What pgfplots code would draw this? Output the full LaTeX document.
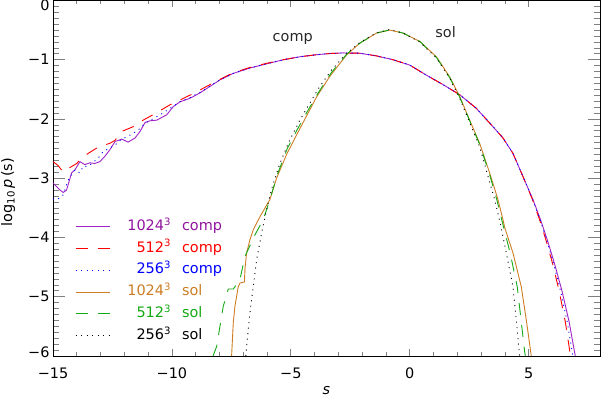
\documentclass[border=0pt]{standalone}
\usepackage{pgfplots}
\pgfplotsset{compat=1.18}
\usepackage{fontspec}
\setmainfont{DejaVu Sans}
\usetikzlibrary{calc}
\definecolor{cpurple}{RGB}{160,35,200}
\definecolor{tpurple}{RGB}{145,20,160}
\definecolor{cred}{RGB}{255,0,0}
\definecolor{cblue}{RGB}{0,0,255}
\definecolor{corange}{RGB}{205,125,35}
\definecolor{cgreen}{RGB}{20,170,20}
\newcommand{\lent}[3]{\textcolor{#1}{\makebox[54bp][r]{#2}\textsuperscript{3}\hspace{11bp}#3}}
\tikzset{
  solidpat/.style={solid},
  dashpat/.style={dash pattern=on 12bp off 10bp},
  dotpat/.style={dash pattern=on 1bp off 4.5bp},
}
\newcommand{\limg}[2]{\addlegendimage{legend image code/.code={\color{#1}\draw[draw=#1, line width=0.9bp, #2] (0bp,0bp) -- (34bp,0bp);}}}
\begin{document}
\begin{tikzpicture}[font=\fontsize{14.5}{17}\selectfont]
\begin{axis}[name=ax, scale only axis, width=547bp, height=355.5bp,
  xmin=-15, xmax=8, ymin=-6, ymax=0,
  xtick={-15,-10,-5,0,5}, xticklabels={−15,−10,−5,0,5},
  ytick={-6,-5,-4,-3,-2,-1,0},
  yticklabels={\raisebox{4bp}{−6},−5,−4,−3,−2,−1,\raisebox{-4.5bp}{0}},
  minor x tick num=4, minor y tick num=9,
  tick align=inside,
  axis line style={line width=0.8bp},
  xtick style={line width=0.7bp, /pgfplots/major tick length=7bp, /pgfplots/minor tick length=3.5bp},
  ytick style={line width=0.7bp, /pgfplots/major tick length=12bp, /pgfplots/minor tick length=6bp},
  yticklabel style={text height=10.5bp, text depth=0bp},
  xticklabel style={yshift=-8bp},
  xlabel={\textit{s}}, ylabel={log\textsubscript{10}\,\textit{p}\,(s)},
  xlabel style={at={(axis description cs:0.5,-0.098)}, anchor=center, inner sep=0bp},
  ylabel style={at={(axis description cs:-0.082,0.461)}, anchor=center},
  legend cell align=left,
  legend style={draw=none, fill=none, at={(axis description cs:0.0402,0.385)}, anchor=north west,
    row sep=7.3bp, column sep=0bp, inner sep=0bp,
    nodes={inner sep=0bp, text height=11bp, text depth=3.5bp}},
  every axis plot/.append style={line width=0.9bp},
]
\limg{cpurple}{solidpat}
\addlegendentry{\lent{tpurple}{1024}{comp}}
\limg{cred}{dashpat}
\addlegendentry{\lent{cred}{512}{comp}}
\limg{cblue}{dotpat}
\addlegendentry{\lent{cblue}{256}{comp}}
\limg{corange}{solidpat}
\addlegendentry{\lent{corange}{1024}{sol}}
\limg{cgreen}{dashpat}
\addlegendentry{\lent{cgreen}{512}{sol}}
\limg{black}{dotpat}
\addlegendentry{\lent{black}{256}{sol}}
% comp 1024^3
\addplot[draw=cpurple, forget plot] coordinates {
(-15,-3.08) (-14.85,-3.14) (-14.7,-3.2) (-14.57,-3.24) (-14.43,-3.20) (-14.32,-3.05) (-14.22,-2.91) (-14.08,-2.86) (-13.87,-2.72) (-13.66,-2.77) (-13.45,-2.74) (-13.24,-2.75) (-13.03,-2.72) (-12.82,-2.63) (-12.61,-2.52) (-12.39,-2.38) (-12.11,-2.34) (-11.84,-2.39) (-11.55,-2.32) (-11.34,-2.21) (-11.13,-2.06) (-10.92,-2.03) (-10.64,-2.02) (-10.22,-1.93) (-9.94,-1.79) (-9.66,-1.71) (-9.24,-1.65) (-8.82,-1.56) (-7.98,-1.34) (-7.42,-1.23) (-6.72,-1.14) (-6.02,-1.07) (-5.32,-1.0) (-4.62,-0.95) (-3.92,-0.915) (-3.36,-0.895) (-2.8,-0.885) (-2.10,-0.89) (-1.4,-0.935) (-0.70,-1.0) (0,-1.09) (0.70,-1.26) (1.40,-1.42) (2.10,-1.59) (2.80,-1.82) (3.50,-2.13) (3.92,-2.32) (4.34,-2.58) (4.76,-2.97) (5.18,-3.36) (5.5,-3.70) (5.8,-4.06) (6.1,-4.46) (6.4,-4.90) (6.7,-5.42) (6.96,-6.0)
};
% comp 512^3
\addplot[draw=cred, dashpat, forget plot] coordinates {
(-15,-2.72) (-14.8,-2.78) (-14.64,-2.86) (-14.45,-2.89) (-14.29,-2.82) (-14.0,-2.75) (-13.87,-2.69) (-13.52,-2.58) (-13.16,-2.49) (-12.9,-2.45) (-12.61,-2.41) (-12.39,-2.36) (-12.11,-2.21) (-11.63,-2.13) (-11.21,-2.02) (-10.58,-1.88) (-10.08,-1.76) (-9.66,-1.68) (-9.1,-1.57) (-8.82,-1.51) (-7.98,-1.33) (-7.42,-1.22) (-6.72,-1.13) (-6.02,-1.06) (-5.32,-1.0) (-4.62,-0.95) (-3.92,-0.915) (-3.36,-0.895) (-2.8,-0.885) (-2.10,-0.89) (-1.4,-0.935) (-0.70,-1.0) (0,-1.09) (0.70,-1.26) (1.40,-1.42) (2.10,-1.59) (2.80,-1.82) (3.50,-2.13) (3.92,-2.32) (4.34,-2.58) (4.76,-2.97) (5.16,-3.36) (5.46,-3.70) (5.74,-4.06) (6.02,-4.46) (6.28,-4.90) (6.54,-5.42) (6.76,-6.0)
};
% comp 256^3
\addplot[draw=cblue, dotpat, forget plot] coordinates {
(-15,-3.35) (-14.82,-3.36) (-14.57,-3.28) (-14.36,-3.03) (-14.08,-2.86) (-13.87,-2.91) (-13.73,-2.80) (-13.52,-2.80) (-13.1,-2.66) (-12.89,-2.55) (-12.61,-2.49) (-12.39,-2.44) (-12.18,-2.36) (-11.9,-2.30) (-11.62,-2.24) (-11.34,-2.16) (-11.13,-2.07) (-10.5,-1.93) (-10.0,-1.80) (-9.66,-1.71) (-9.24,-1.64) (-8.82,-1.55) (-7.98,-1.34) (-7.42,-1.23) (-6.72,-1.14) (-6.02,-1.07) (-5.32,-1.0) (-4.62,-0.95) (-3.92,-0.915) (-3.36,-0.895) (-2.8,-0.885) (-2.10,-0.89) (-1.4,-0.935) (-0.70,-1.0) (0,-1.09) (0.70,-1.26) (1.40,-1.42) (2.10,-1.59) (2.80,-1.82) (3.50,-2.13) (3.92,-2.32) (4.34,-2.58) (4.76,-2.97) (5.17,-3.36) (5.48,-3.70) (5.77,-4.06) (6.06,-4.46) (6.34,-4.90) (6.62,-5.42) (6.86,-6.0)
};
% sol 1024^3
\addplot[draw=corange, forget plot] coordinates {
(-7.49,-6.0) (-7.42,-5.44) (-7.35,-5.16) (-7.21,-4.83) (-7.14,-4.77) (-6.95,-4.75) (-6.93,-4.54) (-6.86,-4.26) (-6.72,-4.04) (-6.58,-3.87) (-6.30,-3.65) (-5.88,-3.36) (-5.60,-3.00) (-5.18,-2.60) (-4.76,-2.27) (-4.34,-1.95) (-3.92,-1.63) (-3.36,-1.28) (-2.66,-0.92) (-2.10,-0.72) (-1.40,-0.55) (-0.84,-0.50) (-0.28,-0.55) (0.42,-0.69) (1.12,-0.95) (1.68,-1.29) (2.10,-1.62) (2.52,-2.02) (2.94,-2.41) (3.36,-2.91) (3.71,-3.36) (3.92,-3.70) (4.0,-3.84) (4.34,-4.26) (4.69,-4.83) (4.90,-5.39) (5.11,-6.0)
};
% sol 512^3
\addplot[draw=cgreen, dashpat, forget plot] coordinates {
(-8.27,-6.0) (-8.12,-5.84) (-7.98,-5.5) (-7.84,-5.16) (-7.63,-4.87) (-7.42,-4.87) (-7.14,-4.71) (-6.93,-4.32) (-6.5,-3.95) (-6.16,-3.70) (-5.88,-3.36) (-5.55,-2.92) (-5.15,-2.50) (-4.76,-2.20) (-4.30,-1.87) (-3.85,-1.56) (-3.30,-1.22) (-2.66,-0.91) (-2.10,-0.72) (-1.40,-0.55) (-0.84,-0.495) (-0.28,-0.55) (0.42,-0.69) (1.12,-0.96) (1.68,-1.30) (2.10,-1.63) (2.52,-2.03) (2.94,-2.43) (3.36,-2.94) (3.66,-3.36) (3.90,-3.75) (4.22,-4.26) (4.52,-4.83) (4.68,-5.39) (4.83,-5.92) (4.86,-6.0)
};
% sol 256^3
\addplot[draw=black, dotpat, forget plot] coordinates {
(-6.89,-6.0) (-6.86,-5.84) (-6.72,-5.27) (-6.58,-4.83) (-6.44,-4.38) (-6.23,-3.93) (-6.02,-3.53) (-5.80,-3.17) (-5.46,-2.75) (-5.04,-2.35) (-4.62,-2.02) (-4.20,-1.73) (-3.78,-1.45) (-3.30,-1.18) (-2.70,-0.91) (-2.10,-0.71) (-1.40,-0.545) (-0.84,-0.49) (-0.28,-0.55) (0.42,-0.70) (1.12,-0.97) (1.68,-1.31) (2.10,-1.65) (2.52,-2.06) (2.94,-2.47) (3.25,-2.91) (3.57,-3.36) (3.80,-3.75) (4.06,-4.26) (4.34,-4.83) (4.48,-5.39) (4.62,-6.0)
};
\node[text=black!85] at (axis cs:-4.92,-0.65) {comp};
\node[text=black!85] at (axis cs:1.51,-0.53) {sol};
\end{axis}
\pgfresetboundingbox
\path ($(ax.south west)+(-53bp,-43bp)$) rectangle ($(ax.north east)+(1bp,0.5bp)$);
\end{tikzpicture}
\end{document}
